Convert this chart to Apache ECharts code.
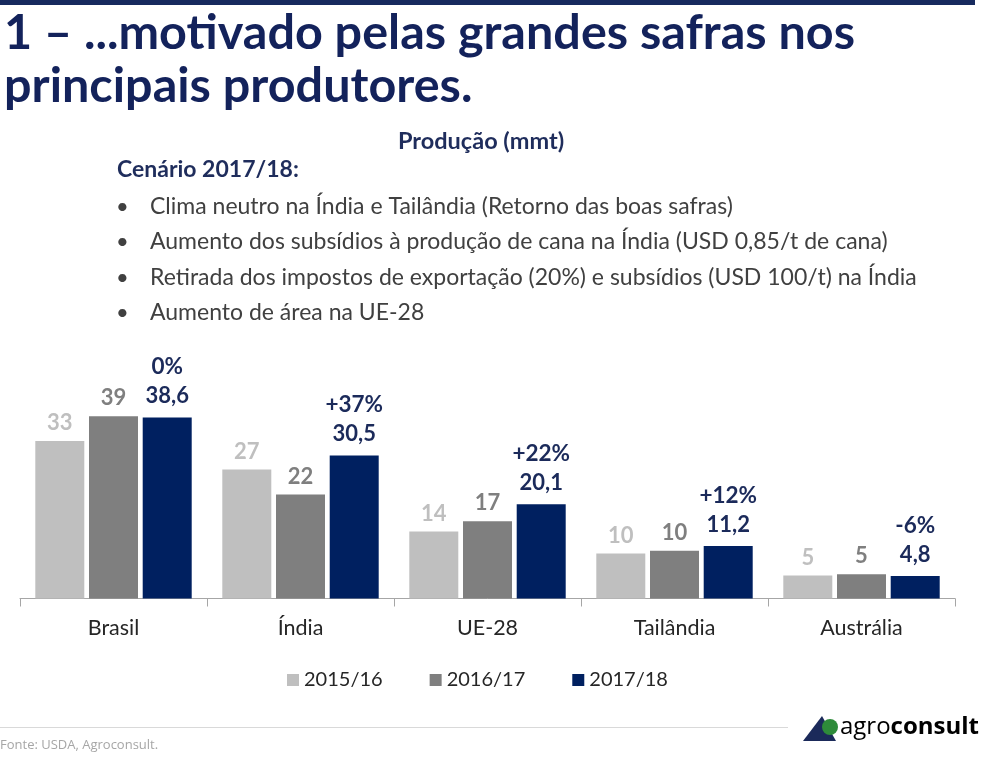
<!DOCTYPE html>
<html>
<head>
<meta charset="utf-8">
<script src="https://cdn.jsdelivr.net/npm/echarts@6/dist/echarts.min.js"></script>
<style>
html,body{margin:0;padding:0;background:#fff;}
#chart{width:991px;height:763px;}
</style>
</head>
<body>
<div id="chart"></div>
<script>
const categories = ['Brasil', 'Índia', 'UE-28', 'Tailândia', 'Austrália'];
const seasons = ['2015/16', '2016/17', '2017/18'];
const prod1516 = [33.6, 27.5, 14.3, 9.6, 4.9];
const prod1617 = [38.9, 22.2, 16.5, 10.2, 5.2];
const prod1718 = [38.6, 30.5, 20.1, 11.2, 4.8];
const labels1516 = ['33', '27', '14', '10', '5'];
const labels1617 = ['39', '22', '17', '10', '5'];
const labels1718 = ['38,6', '30,5', '20,1', '11,2', '4,8'];
const change1718 = ['0%', '+37%', '+22%', '+12%', '-6%'];
const titleLines = ['1 – ...motivado pelas grandes safras nos', 'principais produtores.'];
const bullets = [
  'Clima neutro na Índia e Tailândia (Retorno das boas safras)',
  'Aumento dos subsídios à produção de cana na Índia (USD 0,85/t de cana)',
  'Retirada dos impostos de exportação (20%) e subsídios (USD 100/t) na Índia',
  'Aumento de área na UE-28'
];

const NAVY = '#13225B';
const FONT = 'Lato, "Open Sans", sans-serif';
const chart = echarts.init(document.getElementById('chart'));

// fit the condensed title to the reference width
const ctx = document.createElement('canvas').getContext('2d');
const TITLE_FONT = 'bold 47px ' + FONT;
ctx.font = TITLE_FONT;
const titleScale = 851 / ctx.measureText(titleLines[0]).width;

const bulletGraphics = [];
bullets.forEach((t, i) => {
  const y = [207, 242, 278, 313][i];
  bulletGraphics.push({type: 'text', style: {x: 116, y: y, verticalAlign: 'middle', text: '•', font: '22px ' + FONT, fill: '#404040'}});
  bulletGraphics.push({type: 'text', style: {x: 150, y: y, verticalAlign: 'middle', text: t, font: '23px ' + FONT, fill: '#404040'}});
});

function lbl(arr, color) {
  return {
    show: true, position: 'top', distance: 7,
    formatter: p => arr[p.dataIndex],
    color: color, fontFamily: FONT, fontWeight: 'bold', fontSize: 22
  };
}

chart.setOption({
  animation: false,
  backgroundColor: '#ffffff',
  grid: {left: 20, right: 36, top: 411, bottom: 164.5},
  legend: {
    data: seasons, left: 282, top: 665, icon: 'rect', itemWidth: 12, itemHeight: 12, itemGap: 47,
    textStyle: {fontFamily: FONT, fontSize: 20, color: '#262626'}
  },
  xAxis: {
    type: 'category', data: categories,
    axisLine: {lineStyle: {color: '#A6A6A6', width: 1}},
    axisTick: {show: true, length: 8, lineStyle: {color: '#A6A6A6'}},
    axisLabel: {margin: 19, fontFamily: FONT, fontSize: 21.5, color: '#262626'}
  },
  yAxis: {type: 'value', min: 0, max: 40, show: false, splitLine: {show: false}},
  series: [
    {name: seasons[0], type: 'bar', data: prod1516, barWidth: 49, barGap: '9.6%',
     itemStyle: {color: '#BFBFBF'}, label: lbl(labels1516, '#BFBFBF')},
    {name: seasons[1], type: 'bar', data: prod1617, barWidth: 49, barGap: '9.6%',
     itemStyle: {color: '#7F7F7F'}, label: lbl(labels1617, '#7F7F7F')},
    {name: seasons[2], type: 'bar', data: prod1718, barWidth: 49, barGap: '9.6%',
     itemStyle: {color: '#002060'},
     label: {
       show: true, position: 'top', distance: 7,
       formatter: p => '{p|' + change1718[p.dataIndex] + '}\n{v|' + labels1718[p.dataIndex] + '}',
       rich: {
         p: {fontFamily: FONT, fontWeight: 'bold', fontSize: 22.5, color: '#1B2A5A', lineHeight: 29},
         v: {fontFamily: FONT, fontWeight: 'bold', fontSize: 22, color: '#1B2A5A', lineHeight: 29}
       }
     }}
  ],
  graphic: [
    {type: 'rect', shape: {x: 0, y: 0, width: 975, height: 5}, style: {fill: '#172A5E'}},
    {type: 'text', x: 4, y: 34, scaleX: titleScale, style: {x: 0, y: 0, verticalAlign: 'middle', text: titleLines[0], font: TITLE_FONT, fill: NAVY}},
    {type: 'text', x: 4, y: 87, scaleX: titleScale, style: {x: 0, y: 0, verticalAlign: 'middle', text: titleLines[1], font: TITLE_FONT, fill: NAVY}},
    {type: 'text', style: {x: 398, y: 141, verticalAlign: 'middle', text: 'Produção (mmt)', font: 'bold 23.5px ' + FONT, fill: '#1F2D5C'}},
    {type: 'text', style: {x: 117, y: 170, verticalAlign: 'middle', text: 'Cenário 2017/18:', font: 'bold 23px ' + FONT, fill: '#1F2D5C'}},
    ...bulletGraphics,
    {type: 'line', shape: {x1: 0, y1: 727.5, x2: 788, y2: 727.5}, style: {stroke: '#D9D9D9', lineWidth: 1}},
    {type: 'text', style: {x: 0, y: 745, verticalAlign: 'middle', text: 'Fonte: USDA, Agroconsult.', font: '13px "Open Sans", sans-serif', fill: '#A6A6A6'}},
    {type: 'polygon', shape: {points: [[803, 741], [822, 716], [836, 741]]}, style: {fill: '#1B2A5A'}},
    {type: 'circle', shape: {cx: 830, cy: 727, r: 8}, style: {fill: '#2E8B3A'}},
    {type: 'text', style: {
      x: 840, y: 727, verticalAlign: 'middle',
      text: '{a|agro}{b|consult}',
      rich: {
        a: {fontFamily: '"Open Sans", sans-serif', fontSize: 24, color: '#46557A', fontWeight: 'normal'},
        b: {fontFamily: '"Open Sans", sans-serif', fontSize: 24, color: '#1B2A5A', fontWeight: 'bold'}
      }
    }}
  ]
});
</script>
</body>
</html>
